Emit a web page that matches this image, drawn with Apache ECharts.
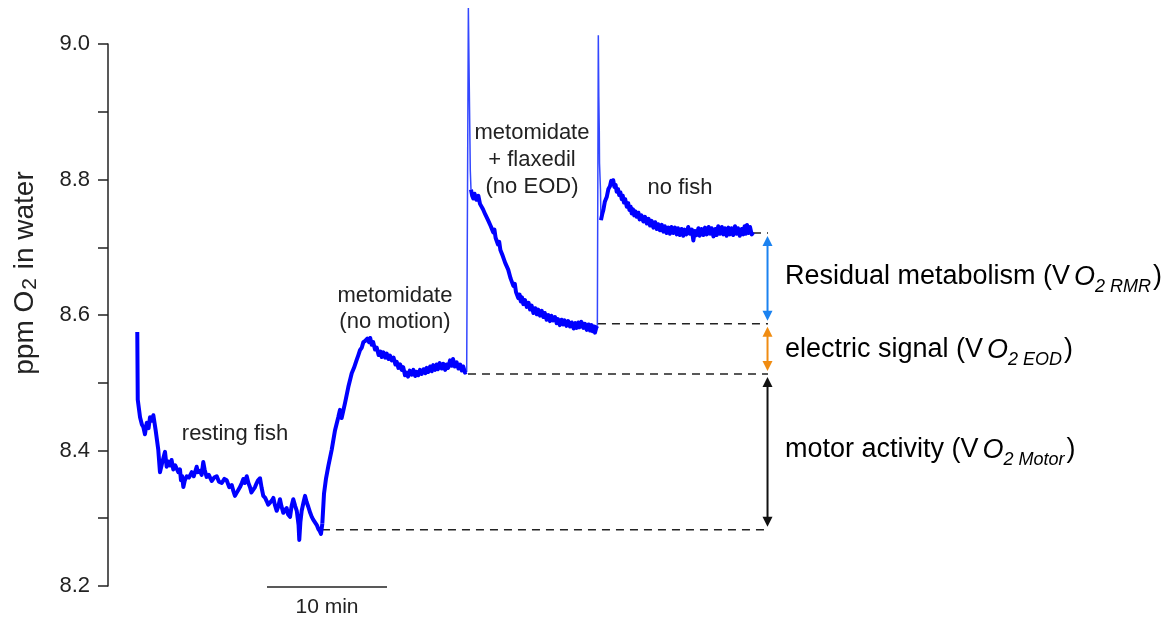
<!DOCTYPE html>
<html>
<head>
<meta charset="utf-8">
<script src="https://cdn.jsdelivr.net/npm/echarts@6/dist/echarts.min.js"></script>
<style>
  html, body { margin: 0; padding: 0; background: #fff; }
  #chart { width: 1171px; height: 622px; }
</style>
</head>
<body>
<div id="chart"></div>
<script>
// Oxygen trace in the tank water, [minutes, ppm O2], one array per phase
const restingTrace = [
  [2.44,8.575],[2.48,8.475],[2.67,8.449],[2.83,8.438],[2.94,8.435],[3.08,8.424],[3.23,8.441],[3.38,8.433],
  [3.5,8.449],[3.64,8.444],[3.78,8.452],[3.97,8.430],[4.19,8.401],[4.33,8.368],[4.53,8.383],[4.75,8.398],
  [4.89,8.376],[5.0,8.384],[5.17,8.378],[5.3,8.386],[5.44,8.372],[5.6,8.378],[5.86,8.368],[6.0,8.372],
  [6.08,8.356],[6.18,8.362],[6.28,8.346],[6.4,8.356],[6.56,8.362],[6.75,8.360],[6.98,8.368],[7.15,8.362],
  [7.39,8.376],[7.5,8.368],[7.67,8.370],[7.8,8.364],[7.94,8.383],[8.05,8.372],[8.22,8.361],[8.4,8.364],
  [8.64,8.355],[8.85,8.360],[9.06,8.362],[9.25,8.354],[9.48,8.352],[9.7,8.358],[9.89,8.356],[10.1,8.346],
  [10.31,8.349],[10.45,8.340],[10.58,8.333],[10.8,8.340],[11.0,8.346],[11.15,8.352],[11.28,8.358],[11.4,8.352],
  [11.56,8.362],[11.7,8.352],[11.83,8.346],[11.95,8.338],[12.11,8.340],[12.25,8.346],[12.39,8.352],[12.5,8.356],
  [12.67,8.359],[12.8,8.345],[12.94,8.333],[13.1,8.330],[13.23,8.325],[13.35,8.320],[13.5,8.318],[13.65,8.326],
  [13.78,8.330],[13.9,8.320],[14.06,8.311],[14.2,8.318],[14.33,8.328],[14.45,8.318],[14.61,8.308],[14.75,8.312],
  [14.89,8.315],[15.0,8.306],[15.17,8.302],[15.3,8.318],[15.44,8.328],[15.6,8.318],[15.73,8.311],[15.88,8.290],
  [15.94,8.268],[16.03,8.294],[16.14,8.311],[16.3,8.324],[16.42,8.333],[16.55,8.324],[16.69,8.317],[16.85,8.308],
  [16.98,8.302],[17.1,8.298],[17.25,8.294],[17.4,8.290],[17.53,8.284],[17.65,8.281],[17.75,8.277],[17.86,8.292]
];
const metomidateTrace = [
  [17.86,8.292],[18.0,8.336],[18.17,8.359],[18.36,8.377],[18.64,8.401],[18.92,8.430],[19.19,8.449],[19.33,8.460],
  [19.47,8.448],[19.75,8.470],[20.03,8.494],[20.31,8.514],[20.5,8.522],[20.73,8.534],[20.85,8.540],[21.0,8.548],
  [21.15,8.552],[21.28,8.560],[21.45,8.562],[21.61,8.565],[21.75,8.560],[21.85,8.566],[21.98,8.556],[22.1,8.560],
  [22.25,8.549],[22.39,8.552],[22.55,8.541],[22.7,8.546],[22.81,8.538],[22.95,8.545],[23.1,8.537],[23.23,8.543],
  [23.38,8.535],[23.5,8.540],[23.64,8.533],[23.8,8.537],[23.95,8.527],[24.06,8.531],[24.2,8.522],[24.35,8.527],
  [24.48,8.519],[24.6,8.523],[24.75,8.511],[24.89,8.515],[25.0,8.509],[25.15,8.518],[25.31,8.512],[25.45,8.519],
  [25.6,8.510],[25.73,8.516],[25.85,8.511],[26.0,8.519],[26.14,8.513],[26.3,8.520],[26.45,8.514],[26.56,8.522],
  [26.7,8.516],[26.85,8.524],[26.98,8.517],[27.1,8.526],[27.25,8.519],[27.39,8.527],[27.5,8.520],[27.65,8.529],
  [27.81,8.521],[27.95,8.528],[28.1,8.519],[28.23,8.527],[28.35,8.522],[28.5,8.533],[28.64,8.525],[28.75,8.535],
  [28.9,8.524],[29.06,8.530],[29.2,8.521],[29.35,8.527],[29.48,8.518],[29.6,8.524],[29.75,8.515],[29.89,8.516]
];
const flaxedilSpike = [[29.89,8.516],[30.03,9.053],[30.08,8.976],[30.13,8.903],[30.19,8.814],[30.25,8.785]];
const flaxedilTrace = [
  [30.25,8.785],[30.35,8.776],[30.44,8.772],[30.55,8.779],[30.7,8.770],[30.86,8.776],[31.0,8.764],[31.14,8.766],
  [31.25,8.756],[31.35,8.758],[31.45,8.748],[31.56,8.750],[31.67,8.740],[31.8,8.741],[31.9,8.731],[32.0,8.733],
  [32.1,8.722],[32.2,8.726],[32.3,8.714],[32.39,8.716],[32.5,8.704],[32.6,8.708],[32.7,8.696],[32.81,8.697],
  [32.9,8.687],[33.0,8.689],[33.1,8.677],[33.23,8.679],[33.35,8.667],[33.45,8.665],[33.55,8.654],[33.65,8.656],
  [33.78,8.643],[33.9,8.646],[34.0,8.634],[34.1,8.636],[34.19,8.625],[34.3,8.630],[34.4,8.620],[34.5,8.626],
  [34.61,8.616],[34.75,8.622],[34.9,8.612],[35.05,8.618],[35.17,8.608],[35.3,8.614],[35.45,8.603],[35.6,8.610],
  [35.73,8.601],[35.85,8.608],[36.0,8.599],[36.15,8.606],[36.28,8.597],[36.4,8.603],[36.55,8.593],[36.7,8.600],
  [36.83,8.591],[36.95,8.599],[37.1,8.592],[37.25,8.597],[37.39,8.588],[37.5,8.594],[37.65,8.585],[37.8,8.593],
  [37.94,8.586],[38.05,8.592],[38.2,8.584],[38.35,8.591],[38.5,8.583],[38.65,8.589],[38.8,8.580],[38.95,8.588],
  [39.06,8.581],[39.2,8.589],[39.3,8.582],[39.45,8.590],[39.61,8.581],[39.75,8.587],[39.9,8.578],[40.05,8.586],
  [40.17,8.577],[40.3,8.585],[40.4,8.576],[40.5,8.583],[40.58,8.574],[40.7,8.582],[40.78,8.584]
];
const noFishSpike = [[40.78,8.584],[40.86,9.013],[40.9,8.922],[40.94,8.873],[40.96,8.824],[41.04,8.785],[41.08,8.740]];
const noFishTrace = [
  [41.08,8.740],[41.2,8.750],[41.28,8.755],[41.4,8.767],[41.56,8.774],[41.7,8.786],[41.83,8.790],[41.93,8.798],
  [42.0,8.793],[42.1,8.799],[42.2,8.789],[42.3,8.792],[42.39,8.782],[42.5,8.786],[42.6,8.777],[42.7,8.781],
  [42.81,8.771],[42.9,8.776],[43.0,8.766],[43.1,8.771],[43.23,8.760],[43.35,8.765],[43.45,8.755],[43.55,8.760],
  [43.64,8.750],[43.75,8.756],[43.85,8.747],[43.95,8.753],[44.06,8.745],[44.2,8.751],[44.3,8.741],[44.45,8.747],
  [44.61,8.738],[44.75,8.745],[44.9,8.735],[45.05,8.742],[45.17,8.732],[45.3,8.739],[45.45,8.729],[45.6,8.737],
  [45.73,8.727],[45.85,8.734],[46.0,8.725],[46.15,8.733],[46.28,8.723],[46.4,8.731],[46.55,8.721],[46.7,8.729],
  [46.83,8.720],[46.95,8.730],[47.1,8.721],[47.25,8.729],[47.39,8.719],[47.5,8.728],[47.65,8.718],[47.8,8.727],
  [47.94,8.717],[48.05,8.726],[48.2,8.719],[48.35,8.730],[48.5,8.720],[48.65,8.726],[48.78,8.710],[48.9,8.724],
  [49.06,8.718],[49.2,8.728],[49.3,8.717],[49.45,8.727],[49.61,8.718],[49.75,8.729],[49.9,8.719],[50.05,8.730],
  [50.17,8.720],[50.3,8.728],[50.45,8.716],[50.6,8.727],[50.72,8.718],[50.85,8.731],[51.0,8.720],[51.15,8.730],
  [51.28,8.719],[51.4,8.728],[51.55,8.717],[51.7,8.729],[51.83,8.719],[51.95,8.728],[52.1,8.718],[52.25,8.731],
  [52.39,8.720],[52.5,8.728],[52.65,8.717],[52.8,8.727],[52.94,8.719],[53.05,8.731],[53.15,8.720],[53.25,8.733],
  [53.36,8.721],[53.5,8.730],[53.64,8.719],[53.78,8.722]
];

// Plateau levels of the four phases (resting, metomidate, + flaxedil, no fish)
const plateauPpm = [8.283, 8.513, 8.587, 8.721];
const plateauStartMin = [17.83, 30.0, 40.83, 53.75];
const plateauEndMin = 55.0;

// Partition arrows between neighbouring plateaus
const arrowMin = 54.96;
const arrowColors = ['#111111', '#f08c12', '#1b82f0'];

// Y axis ticks
const yTickLabels = ['8.2', '8.4', '8.6', '8.8', '9.0'];

// 10 minute scale bar
const scaleBarMin = [13.25, 23.25];
const scaleBarPpm = 8.2;

const FONT = '"Liberation Sans", Helvetica, Arial, sans-serif';
const INK = '#222222';

function subRich(color) {
  return {
    n: { fontSize: 27, color: color, fontFamily: FONT },
    o: { fontSize: 27, color: color, fontFamily: FONT, fontStyle: 'italic', padding: [0, 0, 0, 4] },
    s: { fontSize: 18, color: color, fontFamily: FONT, fontStyle: 'italic', padding: [20, 2, 0, 0] }
  };
}

const chart = echarts.init(document.getElementById('chart'), null, { renderer: 'canvas' });

const traceLine = (data) => ({
  type: 'line', data: data, showSymbol: false, clip: false, animation: false,
  lineStyle: { color: '#0000ff', width: 4, join: 'round' }, z: 3
});
const spikeLine = (data) => ({
  type: 'line', data: data, showSymbol: false, clip: false, animation: false,
  lineStyle: { color: '#3347ff', width: 1.5 }, z: 2
});

const plateauData = plateauPpm.map((v, i) => [plateauStartMin[i], plateauEndMin, v]);
const arrowData = [0, 1, 2].map(i => [arrowMin, plateauPpm[i], plateauPpm[i + 1]]);

chart.setOption({
  animation: false,
  backgroundColor: '#ffffff',
  grid: { left: 108, right: 7, top: 44, bottom: 36, containLabel: false },
  xAxis: { type: 'value', min: 0, max: 88, show: false },
  yAxis: {
    type: 'value', min: 8.2, max: 9.0, interval: 0.1,
    axisLine: { show: true, lineStyle: { color: INK, width: 1.5 } },
    axisTick: { show: true, length: 10, lineStyle: { color: INK, width: 1.5 } },
    axisLabel: {
      margin: 18, fontSize: 22, color: INK, fontFamily: FONT,
      formatter: (v) => { const s = v.toFixed(1); return yTickLabels.includes(s) ? s : ''; }
    },
    splitLine: { show: false }
  },
  series: [
    traceLine(restingTrace),
    traceLine(metomidateTrace),
    spikeLine(flaxedilSpike),
    traceLine(flaxedilTrace),
    spikeLine(noFishSpike),
    traceLine(noFishTrace),
    {
      // dashed plateau guides
      type: 'custom', data: plateauData, z: 1,
      renderItem: (params, api) => {
        const a = api.coord([api.value(0), api.value(2)]);
        const b = api.coord([api.value(1), api.value(2)]);
        return { type: 'line', shape: { x1: a[0], y1: a[1], x2: b[0], y2: b[1] },
          style: { stroke: INK, lineWidth: 1.5, lineDash: [8, 6] } };
      }
    },
    {
      // double-headed arrows between plateaus
      type: 'custom', data: arrowData, z: 4,
      renderItem: (params, api) => {
        const color = arrowColors[params.dataIndex];
        const lo = api.coord([api.value(0), api.value(1)]);
        const hi = api.coord([api.value(0), api.value(2)]);
        const x = lo[0];
        const top = hi[1] + 3, bot = lo[1] - 3;
        const head = 10, half = 5;
        return {
          type: 'group', children: [
            { type: 'line', shape: { x1: x, y1: top + head - 1, x2: x, y2: bot - head + 1 },
              style: { stroke: color, lineWidth: 2 } },
            { type: 'polygon', shape: { points: [[x, top], [x - half, top + head], [x + half, top + head]] },
              style: { fill: color } },
            { type: 'polygon', shape: { points: [[x, bot], [x - half, bot - head], [x + half, bot - head]] },
              style: { fill: color } }
          ]
        };
      }
    },
    {
      // time scale bar
      type: 'custom', data: [[scaleBarMin[0], scaleBarMin[1], scaleBarPpm]], z: 4,
      renderItem: (params, api) => {
        const a = api.coord([api.value(0), api.value(2)]);
        const b = api.coord([api.value(1), api.value(2)]);
        return {
          type: 'group', children: [
            { type: 'line', shape: { x1: a[0], y1: a[1] + 1, x2: b[0], y2: b[1] + 1 },
              style: { stroke: INK, lineWidth: 1.5 } },
            { type: 'text', style: { x: (a[0] + b[0]) / 2, y: a[1] + 21, text: '10 min', align: 'center',
              verticalAlign: 'middle', fontSize: 21, fill: INK, fontFamily: FONT } }
          ]
        };
      }
    }
  ],
  graphic: [
    { type: 'text', x: 25, y: 273, rotation: Math.PI / 2,
      style: { text: '{a|ppm O}{b|2}{a| in water}', align: 'center', verticalAlign: 'middle',
        rich: {
          a: { fontSize: 28, fill: INK, color: INK, fontFamily: FONT },
          b: { fontSize: 21, fill: INK, color: INK, fontFamily: FONT, padding: [11, 1, 0, 1] }
        } } },
    { type: 'text', x: 235, y: 434, style: { text: 'resting fish', align: 'center', verticalAlign: 'middle', fontSize: 22, fill: INK, fontFamily: FONT } },
    { type: 'text', x: 395, y: 296, style: { text: 'metomidate', align: 'center', verticalAlign: 'middle', fontSize: 22, fill: INK, fontFamily: FONT } },
    { type: 'text', x: 395, y: 322, style: { text: '(no motion)', align: 'center', verticalAlign: 'middle', fontSize: 22, fill: INK, fontFamily: FONT } },
    { type: 'text', x: 532, y: 133, style: { text: 'metomidate', align: 'center', verticalAlign: 'middle', fontSize: 22, fill: INK, fontFamily: FONT } },
    { type: 'text', x: 532, y: 160, style: { text: '+ flaxedil', align: 'center', verticalAlign: 'middle', fontSize: 22, fill: INK, fontFamily: FONT } },
    { type: 'text', x: 532, y: 187, style: { text: '(no EOD)', align: 'center', verticalAlign: 'middle', fontSize: 22, fill: INK, fontFamily: FONT } },
    { type: 'text', x: 680, y: 188, style: { text: 'no fish', align: 'center', verticalAlign: 'middle', fontSize: 22, fill: INK, fontFamily: FONT } },
    { type: 'text', x: 785, y: 277, style: { text: '{n|Residual metabolism (V}{o|O}{s|2 RMR}{n|)}', verticalAlign: 'middle', rich: subRich('#2f74f2') } },
    { type: 'text', x: 785, y: 350, style: { text: '{n|electric signal (V}{o|O}{s|2 EOD}{n|)}', verticalAlign: 'middle', rich: subRich('#e0820e') } },
    { type: 'text', x: 785, y: 450, style: { text: '{n|motor activity (V}{o|O}{s|2 Motor}{n|)}', verticalAlign: 'middle', rich: subRich('#111111') } }
  ]
});
</script>
</body>
</html>
